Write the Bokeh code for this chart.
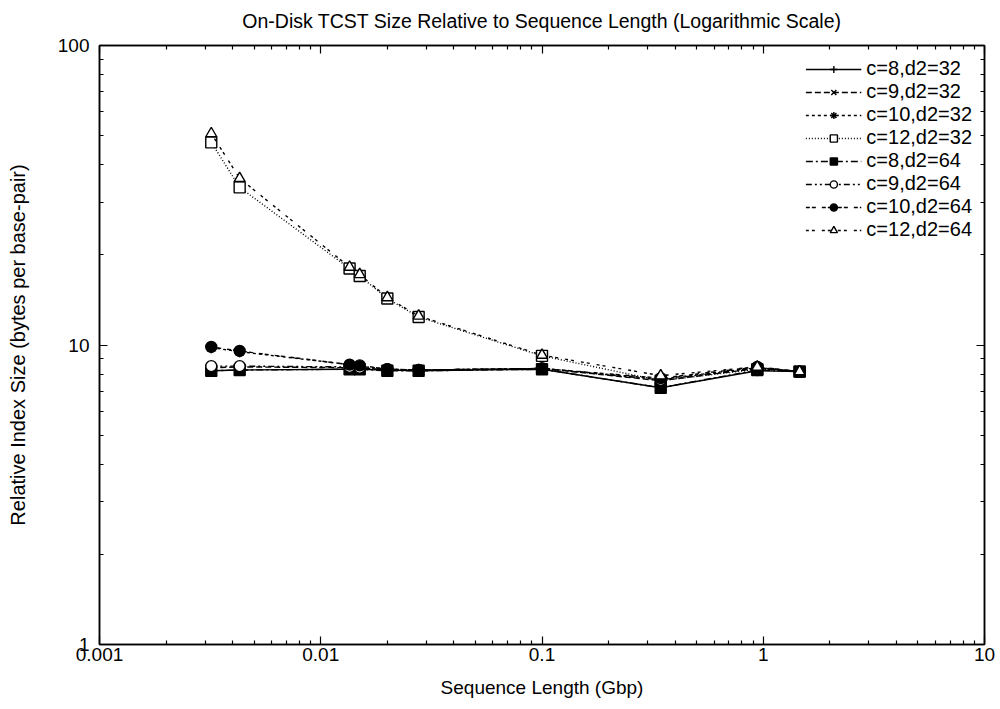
from bokeh.plotting import figure
from bokeh.models import LogAxis, FixedTicker, Legend, LegendItem
from bokeh.embed import file_html
from bokeh.resources import INLINE

# Sequence length (Gbp)
seq_len = [0.0032, 0.0043, 0.0135, 0.015, 0.020, 0.0277, 0.1, 0.344, 0.94, 1.46]

labels = ["c=8,d2=32", "c=9,d2=32", "c=10,d2=32", "c=12,d2=32",
          "c=8,d2=64", "c=9,d2=64", "c=10,d2=64", "c=12,d2=64"]

c8_d32 = [8.2, 8.25, 8.3, 8.3, 8.25, 8.2, 8.3, 7.2, 8.2, 8.15]
c9_d32 = [8.4, 8.45, 8.4, 8.35, 8.3, 8.25, 8.35, 7.6, 8.35, 8.15]
c10_d32 = [9.8, 9.5, 8.6, 8.5, 8.3, 8.25, 8.35, 7.7, 8.4, 8.15]
c12_d32 = [47.5, 33.6, 18.0, 17.0, 14.3, 12.4, 9.2, 7.6, 8.3, 8.15]
c8_d64 = [8.2, 8.25, 8.3, 8.3, 8.2, 8.2, 8.3, 7.2, 8.25, 8.15]
c9_d64 = [8.5, 8.5, 8.45, 8.4, 8.3, 8.25, 8.35, 7.65, 8.4, 8.15]
c10_d64 = [9.85, 9.55, 8.6, 8.55, 8.3, 8.25, 8.35, 7.75, 8.45, 8.15]
c12_d64 = [50.8, 36.0, 18.2, 17.2, 14.4, 12.5, 9.25, 7.9, 8.45, 8.15]

series = [c8_d32, c9_d32, c10_d32, c12_d32, c8_d64, c9_d64, c10_d64, c12_d64]

x_ticks = [0.001, 0.01, 0.1, 1, 10]
x_tick_labels = ["0.001", "0.01", "0.1", "1", "10"]
y_ticks = [1, 10, 100]
y_tick_labels = ["1", "10", "100"]

dashes = ["solid", "6 3", "3 3", "1 2", "7 3 2 3", "6 3 2 3 2 3", "4 2 4 6", "3 3 3 7"]
markers = ["cross", "x", "asterisk", "square", "square", "circle", "circle", "triangle"]
fills = [None, None, None, "white", "black", "white", "black", "white"]

FONT = "Liberation Sans"

p = figure(width=1000, height=709, x_axis_type="log", y_axis_type="log",
           x_range=(0.001, 10), y_range=(1, 100),
           output_backend="svg", toolbar_location=None,
           min_border_left=99, min_border_right=16, min_border_top=45, min_border_bottom=65,
           title="On-Disk TCST Size Relative to Sequence Length (Logarithmic Scale)")

p.title.align = "center"
p.title.vertical_align = "top"
p.title.text_font = FONT
p.title.text_font_size = "19.5px"
p.title.text_font_style = "normal"
p.title.text_color = "black"
p.title.standoff = 16

p.xgrid.visible = False
p.ygrid.visible = False
p.outline_line_color = "black"
p.outline_line_width = 1.5
p.background_fill_color = "white"
p.border_fill_color = "white"

minor_x = [k * 10.0 ** e for e in range(-3, 1) for k in range(2, 10)]
minor_y = [k * 10.0 ** e for e in range(0, 2) for k in range(2, 10)]


def style_axis(ax):
    ax.major_tick_in = 8
    ax.major_tick_out = 0
    ax.minor_tick_in = 4
    ax.minor_tick_out = 0
    ax.axis_line_color = "black"
    ax.axis_line_width = 1.5
    ax.major_tick_line_width = 1.2
    ax.minor_tick_line_width = 1.2
    ax.major_label_text_font = FONT
    ax.major_label_text_font_size = "19px"
    ax.major_label_text_color = "black"
    ax.axis_label_text_font = FONT
    ax.axis_label_text_font_size = "19px"
    ax.axis_label_text_font_style = "normal"
    ax.axis_label_text_color = "black"


xa = p.xaxis[0]
xa.ticker = FixedTicker(ticks=x_ticks, minor_ticks=minor_x)
xa.major_label_overrides = {t: s for t, s in zip(x_ticks, x_tick_labels)}
xa.axis_label = "Sequence Length (Gbp)"
style_axis(xa)
xa.major_label_standoff = 3
xa.axis_label_standoff = 13

ya = p.yaxis[0]
ya.ticker = FixedTicker(ticks=y_ticks, minor_ticks=minor_y)
ya.major_label_overrides = {t: s for t, s in zip(y_ticks, y_tick_labels)}
ya.axis_label = "Relative Index Size (bytes per base-pair)"
style_axis(ya)
ya.axis_label_text_font_size = "20px"
ya.major_label_standoff = 10
ya.axis_label_standoff = 26

top = LogAxis(ticker=FixedTicker(ticks=x_ticks, minor_ticks=minor_x))
style_axis(top)
top.major_label_overrides = {t: " " for t in x_ticks}
top.major_label_text_font_size = "1px"
top.major_label_standoff = 0
p.add_layout(top, "above")

right = LogAxis(ticker=FixedTicker(ticks=y_ticks, minor_ticks=minor_y))
style_axis(right)
right.major_label_overrides = {t: " " for t in y_ticks}
right.major_label_text_font_size = "1px"
right.major_label_standoff = 0
p.add_layout(right, "right")

items = []
for lab, ys, dash, mk, fc in zip(labels, series, dashes, markers, fills):
    r1 = p.line(seq_len, ys, line_color="black", line_width=1.4, line_dash=dash)
    r2 = p.scatter(seq_len, ys, marker=mk, size=11, line_color="black", line_width=1.4,
                   fill_color=fc)
    items.append(LegendItem(label=lab, renderers=[r1, r2]))

legend = Legend(items=items, location="top_right")
legend.border_line_color = None
legend.background_fill_alpha = 0
legend.label_text_font = FONT
legend.label_text_font_size = "20px"
legend.label_text_color = "black"
legend.glyph_width = 56
legend.glyph_height = 18
legend.label_height = 18
legend.spacing = -5
legend.padding = 4
legend.margin = 12
p.add_layout(legend)

open("out.html", "w").write(file_html(p, INLINE))
